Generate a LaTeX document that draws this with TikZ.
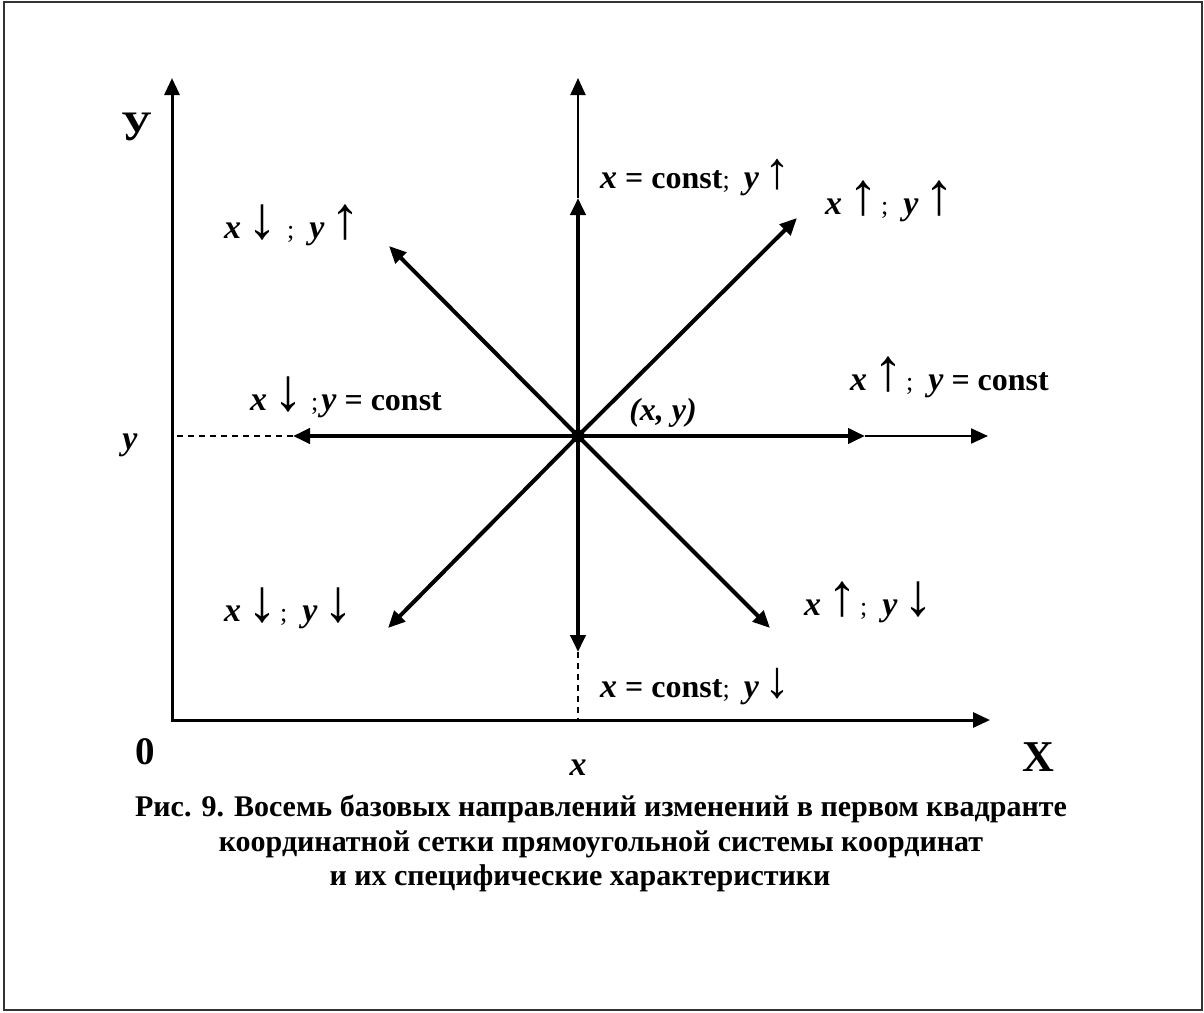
\documentclass[tikz,border=0pt]{standalone}
\usepackage{fontspec}
\setmainfont{Liberation Serif}
\usetikzlibrary{arrows.meta}
\newcommand\vx{{\fontsize{34}{34}\selectfont\bfseries\itshape x}}
\newcommand\vy{{\fontsize{34}{34}\selectfont\bfseries\itshape y}}
\newcommand\bigU{{\fontsize{60}{60}\selectfont\mdseries ↑}}
\newcommand\bigD{{\fontsize{60}{60}\selectfont\mdseries ↓}}
\newcommand\smU{{\fontsize{52}{52}\selectfont\mdseries ↑}}
\newcommand\smD{{\fontsize{52}{52}\selectfont\mdseries ↓}}
\newcommand\semi{{\fontsize{26}{26}\selectfont\mdseries ;}}
\tikzset{
  lbl/.style={font=\fontsize{32}{34}\selectfont\bfseries, inner sep=0pt, anchor=base west},
  captxt/.style={font=\fontsize{30}{32}\selectfont\bfseries, inner sep=0pt},
  thickarrow/.style={line width=4pt, -{Triangle[length=17pt,width=15pt]}},
  thinarrow/.style={line width=2pt, -{Triangle[length=17pt,width=15pt]}},
  axis/.style={line width=3pt, {Triangle[length=17pt,width=15pt]}-{Triangle[length=17pt,width=15pt]}},
  guide/.style={line width=1.5pt, dash pattern=on 6pt off 5pt},
  frame/.style={line width=2pt, draw=black!80}
}
\begin{document}
\begin{tikzpicture}[x=1pt,y=-1pt]
\useasboundingbox (0,0) rectangle (1204,1012);
\draw[frame] (4,2) rectangle (1202,1010);

% key points
\coordinate (o) at (172,720);
\coordinate (xend) at (990,720);
\coordinate (yend) at (172,78);
\coordinate (uT) at (578,198);
\coordinate (uE) at (578,78);
\coordinate (dT) at (578,652);
\coordinate (xf) at (578,720);
\coordinate (rT) at (865,436);
\coordinate (rE) at (988,436);
\coordinate (lT) at (293,436);
\coordinate (yf) at (172,436);
\coordinate (ne) at (797,218);
\coordinate (nw) at (389,246);
\coordinate (sw) at (388,628);
\coordinate (se) at (770,628);

% axes
\draw[axis] (yend) -- (o.center) -- (xend);

% guides
\draw[guide] (lT) -- (yf);
\draw[guide] (dT) -- (xf);

% thin extensions
\draw[thinarrow] (uT) -- (uE);
\draw[thinarrow] (rT) -- (rE);

% eight directions
\node[circle, fill, inner sep=0pt, minimum size=13pt] (c) at (578,436) {};
\foreach \t in {uT,dT,rT,lT,ne,nw,sw,se}
  \draw[thickarrow] (c.center) -- (\t);

% labels
\node[lbl] (l1) at (600,188) {\vx{} = const\semi\hspace{14pt}\vy\hspace{6pt}\smU};
\node[lbl] (l2) at (825,214) {\vx\hspace{6pt}\bigU\hspace{3pt}\semi\hspace{15pt}\vy\hspace{6pt}\bigU};
\node[lbl] (l3) at (224,238) {\vx\hspace{6pt}\bigD\hspace{10pt}\semi\hspace{15pt}\vy\hspace{6pt}\bigU};
\node[lbl] (l4) at (250,410) {\vx\hspace{6pt}\bigD\hspace{8pt}\semi\hspace{3pt}\vy{} = const};
\node[lbl] (l5) at (850,390) {\vx\hspace{6pt}\bigU\hspace{3pt}\semi\hspace{15pt}\vy{} = const};
\node[lbl] (l6) at (224,621) {\vx\hspace{6pt}\bigD\hspace{3pt}\semi\hspace{15pt}\vy\hspace{6pt}\bigD};
\node[lbl] (l7) at (804,615) {\vx\hspace{6pt}\bigU\hspace{3pt}\semi\hspace{15pt}\vy\hspace{6pt}\bigD};
\node[lbl] (l8) at (600,697) {\vx{} = const\semi\hspace{14pt}\vy\hspace{6pt}\smD};
\node[lbl, anchor=center, font=\fontsize{32}{34}\selectfont\bfseries\itshape] (pt) at (663,413) {(x, y)};
\node[lbl, anchor=center, font=\fontsize{34}{34}\selectfont\bfseries\itshape] (ly) at (130,445) {y};
\node[lbl, anchor=center, font=\fontsize{34}{34}\selectfont\bfseries\itshape] (lx) at (578,768) {x};
\node[lbl, anchor=center, font=\fontsize{42}{42}\selectfont\bfseries] (lY) at (137,127) {У};
\node[lbl, anchor=center, font=\fontsize{44}{44}\selectfont\bfseries] (lX) at (1038,757) {X};
\node[lbl, anchor=center, font=\fontsize{39}{39}\selectfont\bfseries] (l0) at (145,752) {0};

% caption
\node[captxt] (c1) at (601,809) {Рис. 9. Восемь базовых направлений изменений в первом квадранте};
\node[captxt] (c2) at (601,844) {координатной сетки прямоугольной системы координат};
\node[captxt] (c3) at (580,878) {и их специфические характеристики};
\end{tikzpicture}
\end{document}
